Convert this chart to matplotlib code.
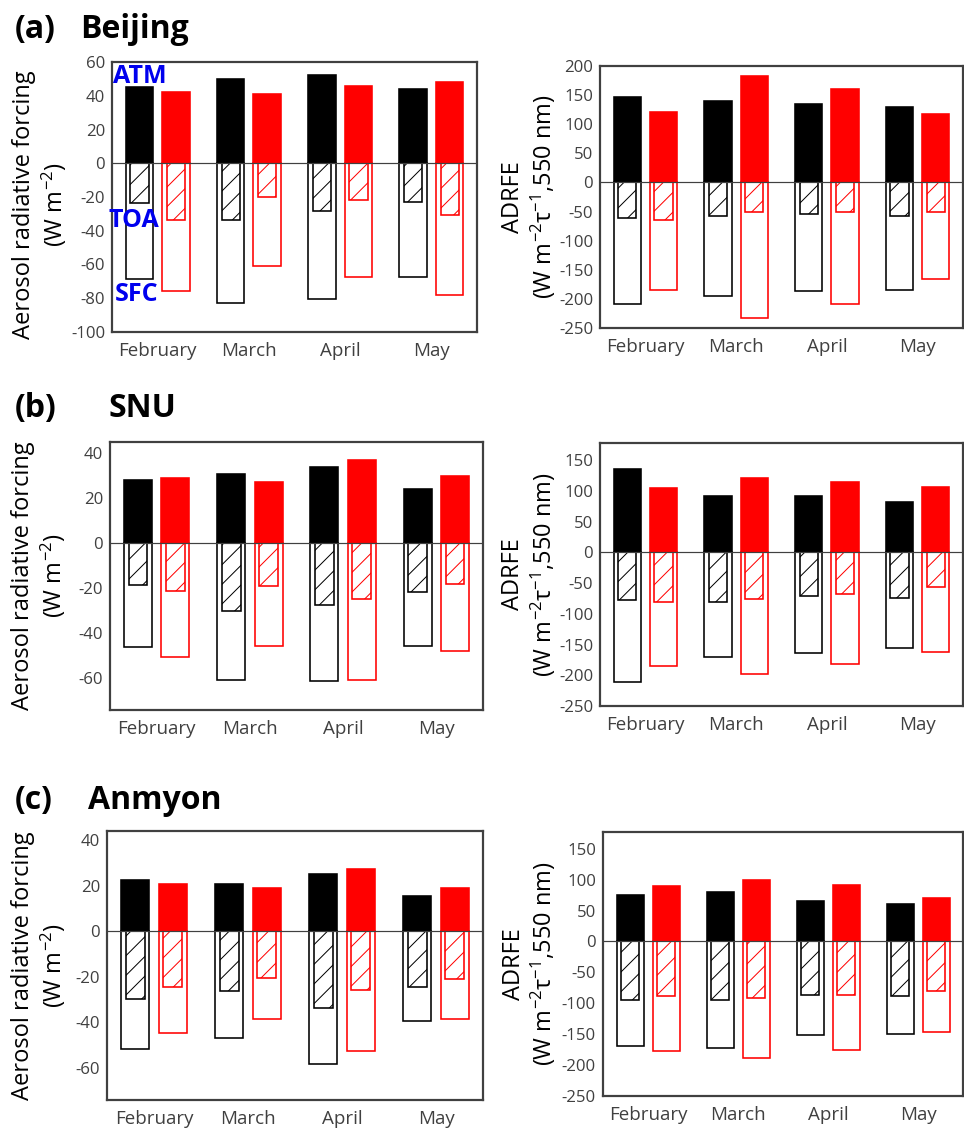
import matplotlib
matplotlib.use('Agg')
import matplotlib.pyplot as plt
import numpy as np

DPI = 118
W, H = 964, 1133


def px(v):
    # pixel size -> points at the output dpi
    return v * 72 / DPI


plt.rcParams['font.family'] = ['Open Sans', 'DejaVu Sans']
plt.rcParams['mathtext.fontset'] = 'custom'
plt.rcParams['mathtext.rm'] = 'Open Sans'
plt.rcParams['mathtext.default'] = 'regular'
plt.rcParams['axes.unicode_minus'] = False
plt.rcParams['hatch.linewidth'] = px(1.0)

months = ['February', 'March', 'April', 'May']

# Beijing, forcing (W m-2): black / red series
bj_atm_k = [45, 50, 52.4, 44]
bj_toa_k = [-23.5, -33.5, -28.5, -23]
bj_sfc_k = [-68.5, -83, -80.5, -67.5]
bj_atm_r = [42, 41, 45.5, 48]
bj_toa_r = [-33.5, -20, -22, -30.5]
bj_sfc_r = [-75.5, -61, -67.5, -78]

# Beijing, efficiency (W m-2 tau-1)
bj_eff_atm_k = [147, 140, 134, 129]
bj_eff_toa_k = [-61, -58, -54, -58]
bj_eff_sfc_k = [-209, -195, -187, -185]
bj_eff_atm_r = [121, 183, 161, 117]
bj_eff_toa_r = [-65, -51, -50, -50]
bj_eff_sfc_r = [-185, -232, -209, -165]

# SNU
snu_atm_k = [28, 31, 34, 24]
snu_toa_k = [-18.4, -29.9, -27.2, -21.8]
snu_sfc_k = [-46.2, -60.7, -61.2, -45.4]
snu_atm_r = [29, 27.4, 36.8, 30]
snu_toa_r = [-21.3, -18.8, -24.6, -18]
snu_sfc_r = [-50.3, -45.4, -60.7, -48]

snu_eff_atm_k = [135, 92, 92, 82]
snu_eff_toa_k = [-78, -80, -71, -75]
snu_eff_sfc_k = [-211, -171, -164, -156]
snu_eff_atm_r = [104, 121, 115, 106]
snu_eff_toa_r = [-81, -76, -68, -57]
snu_eff_sfc_r = [-185, -198, -182, -162]

# Anmyon
an_atm_k = [22.6, 20.8, 25.2, 15.7]
an_toa_k = [-29.6, -26.4, -33.5, -24.4]
an_sfc_k = [-51.8, -47, -58, -39.2]
an_atm_r = [20.8, 19.1, 27.4, 18.8]
an_toa_r = [-24.4, -20.4, -25.7, -20.8]
an_sfc_r = [-44.5, -38.6, -52.4, -38.6]

an_eff_atm_k = [75, 80, 66, 61]
an_eff_toa_k = [-95, -94, -86, -89]
an_eff_sfc_k = [-169, -172, -152, -149]
an_eff_atm_r = [90, 99, 92, 70]
an_eff_toa_r = [-88, -92, -86, -80]
an_eff_sfc_r = [-178, -189, -176, -147]

FRAME = '#404040'
LABEL_FORCING = 'Aerosol radiative forcing\n(W m$^{-2}$)'
LABEL_EFF = 'ADRFE\n(W m$^{-2}$τ$^{-1}$,550 nm)'


def add_axes_px(fig, left, top, right, bottom):
    return fig.add_axes([left / W, 1 - bottom / H, (right - left) / W, (bottom - top) / H])


def draw_group(ax, x, atm, toa, sfc, color):
    ax.bar(x, sfc, width=0.3, facecolor='white', edgecolor=color, linewidth=px(1.6))
    ax.bar(x, toa, width=0.2, facecolor='white', edgecolor=color, linewidth=px(1.6), hatch='//')
    ax.bar(x, atm, width=0.3, facecolor=color, edgecolor=color, linewidth=px(1.6))


def draw_panel(ax, black, red, ylim, yticks, ylabel, label_x, label_y=0.5):
    x = np.arange(len(months))
    draw_group(ax, x - 0.2, *black, 'black')
    draw_group(ax, x + 0.2, *red, '#ff0000')
    ax.axhline(0, color=FRAME, linewidth=px(1.2))
    ax.set_xlim(-0.5, 3.5)
    ax.set_ylim(*ylim)
    ax.set_xticks(x)
    ax.set_xticklabels(months)
    ax.set_yticks(yticks)
    ax.tick_params(length=0, labelcolor=FRAME)
    ax.tick_params(axis='x', pad=px(10), labelsize=px(18.8))
    ax.tick_params(axis='y', pad=px(7), labelsize=px(16.7))
    for s in ax.spines.values():
        s.set_color(FRAME)
        s.set_linewidth(px(2.2))
    ax.set_ylabel(ylabel, fontsize=px(23.6), linespacing=1.15)
    ax.yaxis.set_label_coords(label_x, label_y)


fig = plt.figure(figsize=(W / DPI, H / DPI), dpi=DPI)

ax_a1 = add_axes_px(fig, 112, 62, 477, 332)
ax_a2 = add_axes_px(fig, 600, 66, 963, 328)
ax_b1 = add_axes_px(fig, 110, 442, 483, 710)
ax_b2 = add_axes_px(fig, 600, 443, 963, 706)
ax_c1 = add_axes_px(fig, 107, 831, 483, 1100)
ax_c2 = add_axes_px(fig, 603, 832, 963, 1096)

draw_panel(ax_a1, (bj_atm_k, bj_toa_k, bj_sfc_k), (bj_atm_r, bj_toa_r, bj_sfc_r),
           (-100, 60), range(-100, 61, 20), LABEL_FORCING, -0.118, 0.47)
draw_panel(ax_a2, (bj_eff_atm_k, bj_eff_toa_k, bj_eff_sfc_k), (bj_eff_atm_r, bj_eff_toa_r, bj_eff_sfc_r),
           (-250, 200), range(-250, 201, 50), LABEL_EFF, -0.116)
draw_panel(ax_b1, (snu_atm_k, snu_toa_k, snu_sfc_k), (snu_atm_r, snu_toa_r, snu_sfc_r),
           (-74, 45), range(-60, 41, 20), LABEL_FORCING, -0.113)
draw_panel(ax_b2, (snu_eff_atm_k, snu_eff_toa_k, snu_eff_sfc_k), (snu_eff_atm_r, snu_eff_toa_r, snu_eff_sfc_r),
           (-250, 178), range(-250, 151, 50), LABEL_EFF, -0.116)
draw_panel(ax_c1, (an_atm_k, an_toa_k, an_sfc_k), (an_atm_r, an_toa_r, an_sfc_r),
           (-74, 44), range(-60, 41, 20), LABEL_FORCING, -0.105)
draw_panel(ax_c2, (an_eff_atm_k, an_eff_toa_k, an_eff_sfc_k), (an_eff_atm_r, an_eff_toa_r, an_eff_sfc_r),
           (-250, 177), range(-250, 151, 50), LABEL_EFF, -0.124)

# layer names on the Beijing forcing panel
for name, xpos, ypos in [('ATM', -0.49, 51.5), ('TOA', -0.54, -34), ('SFC', -0.47, -78)]:
    ax_a1.text(xpos, ypos, name, color='#0000ee', fontsize=px(25), fontweight='bold',
               ha='left', va='center', clip_on=False)

for tag, site, site_x, base_y in [('(a)', 'Beijing', 80, 38), ('(b)', 'SNU', 108, 417),
                                  ('(c)', 'Anmyon', 88, 809)]:
    fig.text(15 / W, 1 - base_y / H, tag, fontsize=px(32), fontweight='bold', va='baseline')
    fig.text(site_x / W, 1 - base_y / H, site, fontsize=px(32), fontweight='bold', va='baseline')

fig.savefig('out.png', dpi=DPI)
